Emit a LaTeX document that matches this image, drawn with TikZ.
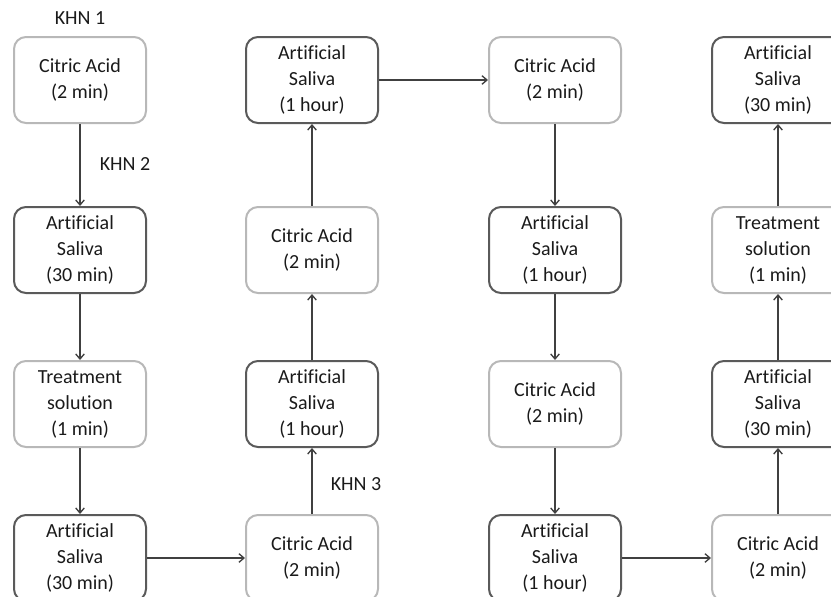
\documentclass[tikz,border=0pt]{standalone}
\usepackage{fontspec}
\setmainfont{Carlito}[Ligatures={NoCommon}]
\usetikzlibrary{arrows.meta}
\definecolor{darkedge}{HTML}{5A5A5A}
\definecolor{lightedge}{HTML}{B8B8B8}
\definecolor{flowline}{HTML}{404040}
\definecolor{labeltext}{HTML}{1A1A1A}
\tikzset{
  stepnode/.style={rectangle, rounded corners=9pt, line width=1.5pt,
    minimum width=99pt, minimum height=64.5pt, inner sep=1pt, align=center,
    text=labeltext, font=\fontsize{15}{19.5}\selectfont},
  saliva/.style={stepnode, draw=darkedge},
  acid/.style={stepnode, draw=lightedge},
  flow/.style={draw=flowline, line width=1pt, -{Straight Barb[length=3.8pt,width=6.5pt]}},
  khn/.style={text=labeltext, font=\fontsize{15}{18}\selectfont}
}
\begin{document}
\begin{tikzpicture}[x=0.75pt,y=-0.75pt]
                \clip (0,0) rectangle (831,596);
                
                % Column 1 (downwards)
                \node [acid]   (s1)  at (80,80)   {Citric Acid\\(2 min)};
                \node [saliva] (s2)  at (80,250)  {Artificial\\Saliva\\(30 min)};
                \node [acid]   (s3)  at (80,404)  {Treatment\\solution\\(1 min)};
                \node [saliva] (s4)  at (80,558)  {Artificial\\Saliva\\(30 min)};
                
                % Column 2 (upwards)
                \node [acid]   (s5)  at (312,558) {Citric Acid\\(2 min)};
                \node [saliva] (s6)  at (312,404) {Artificial\\Saliva\\(1 hour)};
                \node [acid]   (s7)  at (312,250) {Citric Acid\\(2 min)};
                \node [saliva] (s8)  at (312,80)  {Artificial\\Saliva\\(1 hour)};
                
                % Column 3 (downwards)
                \node [acid]   (s9)  at (555,80)  {Citric Acid\\(2 min)};
                \node [saliva] (s10) at (555,250) {Artificial\\Saliva\\(1 hour)};
                \node [acid]   (s11) at (555,404) {Citric Acid\\(2 min)};
                \node [saliva] (s12) at (555,558) {Artificial\\Saliva\\(1 hour)};
                
                % Column 4 (upwards)
                \node [acid]   (s13) at (778,558) {Citric Acid\\(2 min)};
                \node [saliva] (s14) at (778,404) {Artificial\\Saliva\\(30 min)};
                \node [acid]   (s15) at (778,250) {Treatment\\solution\\(1 min)};
                \node [saliva] (s16) at (778,80)  {Artificial\\Saliva\\(30 min)};
                
                % Arrows from step to step
                \foreach \i [count=\j from 2] in {1,...,15}
                  \draw [flow] (s\i) -- (s\j);
                
                % Marking hardness readings
                \node [khn] (khn1) at (80,18)  {KHN 1};
                \node [khn] (khn2) at (125,164) {KHN 2};
                \node [khn] (khn3) at (356,484) {KHN 3};
\end{tikzpicture}
\end{document}
